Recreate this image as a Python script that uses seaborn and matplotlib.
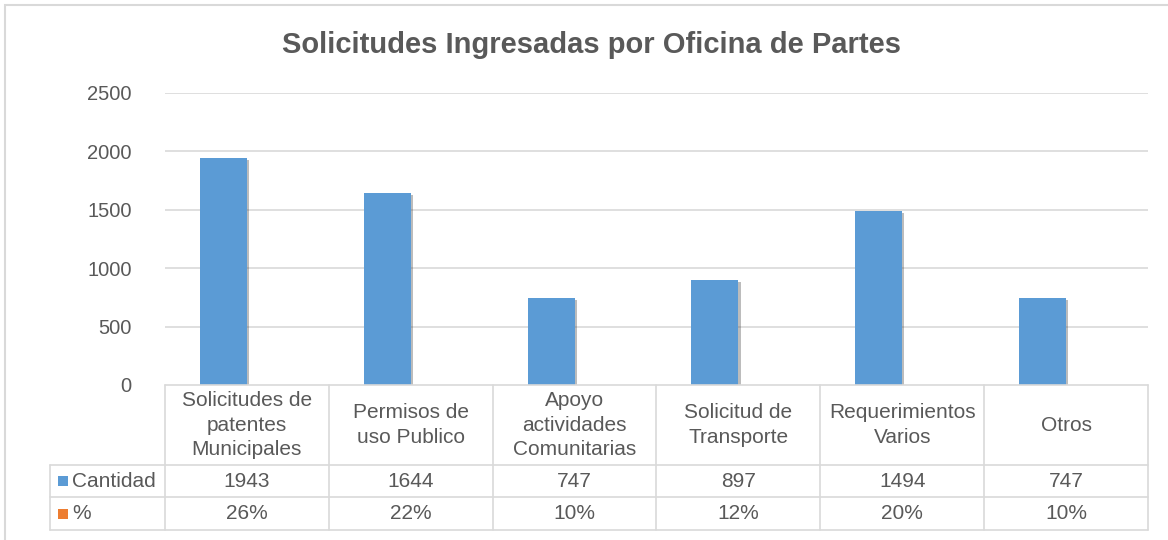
import pandas as pd
import numpy as np
import matplotlib.pyplot as plt
import matplotlib.patheffects as pe
import matplotlib.transforms as mtransforms
from matplotlib.patches import Rectangle
import seaborn as sns

# data
categorias = ['Solicitudes de\npatentes\nMunicipales', 'Permisos de\nuso Publico',
              'Apoyo\nactividades\nComunitarias', 'Solicitud de\nTransporte',
              'Requerimientos\nVarios', 'Otros']
cantidad = [1943, 1644, 747, 897, 1494, 747]
porcentaje = [0.26, 0.22, 0.10, 0.12, 0.20, 0.10]
series = ['Cantidad', '%']
colores = ['#5B9BD5', '#ED7D31']
yticks = [0, 500, 1000, 1500, 2000, 2500]
titulo = 'Solicitudes Ingresadas por Oficina de Partes'

TXT = '#595959'
GRID = '#D9D9D9'

sns.set_theme(style='white')
plt.rcParams['font.family'] = ['Liberation Sans', 'DejaVu Sans']

df = pd.DataFrame({
    'categoria': categorias * 2,
    'serie': ['Cantidad'] * len(categorias) + ['%'] * len(categorias),
    'valor': cantidad + porcentaje,
})

W, H = 1168, 540
fig = plt.figure(figsize=(W / 100, H / 100), dpi=100)
ax = fig.add_axes([165 / W, 1 - 385 / H, 983 / W, 292 / H])

sns.barplot(data=df, x='categoria', y='valor', hue='serie', order=categorias,
            hue_order=series, palette=colores, width=0.573, gap=0,
            saturation=1, legend=False, ax=ax)
for p in ax.patches:
    p.set_edgecolor('none')
    p.set_path_effects([pe.SimplePatchShadow(offset=(1.5, -1.5), alpha=0.35,
                                             shadow_rgbFace='#404040'),
                        pe.Normal()])

ax.set_xlim(-0.5, len(categorias) - 0.5)
ax.set_ylim(0, 2500)
ax.set_yticks(yticks)
ax.set_yticklabels([str(t) for t in yticks], fontsize=14.5, color=TXT)
ax.tick_params(axis='y', length=0, pad=24)
ax.set_xticks([])
ax.set_xlabel('')
ax.set_ylabel('')
for s in ax.spines.values():
    s.set_visible(False)
for t in yticks[1:]:
    ax.axhline(t, color=GRID, lw=1.2, zorder=0)

# data table below the plot
tr = mtransforms.blended_transform_factory(ax.transData, ax.transAxes)
n = len(categorias)
y_top, y_head, y_c, y_p = 0, -0.274, -0.384, -0.497
x_lab = -0.5 - 115 / 164
kw = dict(color=GRID, lw=1.2, clip_on=False, transform=tr)
ax.plot([-0.5, n - 0.5], [y_top, y_top], **kw)
for yy in (y_head, y_c, y_p):
    ax.plot([x_lab, n - 0.5], [yy, yy], **kw)
for i in range(n + 1):
    ax.plot([i - 0.5, i - 0.5], [y_top, y_p], **kw)
ax.plot([x_lab, x_lab], [y_head, y_p], **kw)

for i, cat in enumerate(categorias):
    ax.text(i, (y_top + y_head) / 2, cat, transform=tr, ha='center', va='center',
            fontsize=15, color=TXT, linespacing=1.35)
    ax.text(i, (y_head + y_c) / 2, str(cantidad[i]), transform=tr,
            ha='center', va='center', fontsize=15, color=TXT)
    ax.text(i, (y_c + y_p) / 2, f'{porcentaje[i]:.0%}', transform=tr,
            ha='center', va='center', fontsize=15, color=TXT)

for k, (nombre, col) in enumerate(zip(series, colores)):
    yc = (y_head + y_c) / 2 if k == 0 else (y_c + y_p) / 2
    ax.plot([x_lab + 0.079], [yc], marker='s', ms=7.5, color=col, mew=0,
            clip_on=False, transform=tr)
    ax.text(x_lab + 0.135, yc, nombre, transform=tr, ha='left', va='center',
            fontsize=15, color=TXT)

fig.text(592 / W, 1 - 45 / H, titulo, ha='center', va='center',
         fontsize=21, fontweight='bold', color=TXT)

fig.patches.append(Rectangle((5 / W, -0.1), 1.2, 1 - 5 / H + 0.1,
                             transform=fig.transFigure, fill=False,
                             edgecolor=GRID, lw=1.5))

fig.savefig('out.png', dpi=100)
